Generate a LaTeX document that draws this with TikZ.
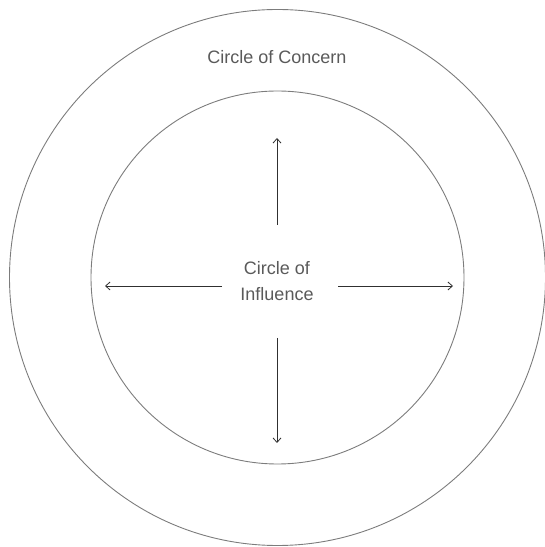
\documentclass[tikz,border=0pt]{standalone}
\usepackage{fontspec}
\setmainfont{Liberation Sans}
\usetikzlibrary{arrows.meta}
\usepackage{xcolor}
\definecolor{ringgray}{HTML}{7C7C7C}
\definecolor{textgray}{HTML}{5A5A5A}
\definecolor{arrowgray}{HTML}{303030}

\begin{document}
\begin{tikzpicture}[x=1pt,y=1pt,>={Straight Barb[length=4.5pt,width=8pt]},
  ring/.style={draw=ringgray,line width=0.9pt},
  push/.style={->,draw=arrowgray,line width=0.8pt},
  ringlabel/.style={text=textgray,font=\fontsize{18}{26}\selectfont,align=center}]
\useasboundingbox (0,0) rectangle (545,547);
\coordinate (ctr) at (277.5,269.5);
\draw[ring] (ctr) circle[radius=268];
\draw[ring] (ctr) circle[radius=186.5];
\node[ringlabel] (concern) at (277,490) {Circle of Concern};
\node[ringlabel] (influence) at (277,265.5) {Circle of\\Influence};
% arrow ends
\coordinate (up0) at (277,322);
\coordinate (up1) at (277,409);
\coordinate (dn0) at (277,209);
\coordinate (dn1) at (277,104);
\coordinate (lt0) at (222,261);
\coordinate (lt1) at (105,261);
\coordinate (rt0) at (338,261);
\coordinate (rt1) at (453,261);
\draw[push] (up0) -- (up1);
\draw[push] (dn0) -- (dn1);
\draw[push] (lt0) -- (lt1);
\draw[push] (rt0) -- (rt1);
\end{tikzpicture}
\end{document}
